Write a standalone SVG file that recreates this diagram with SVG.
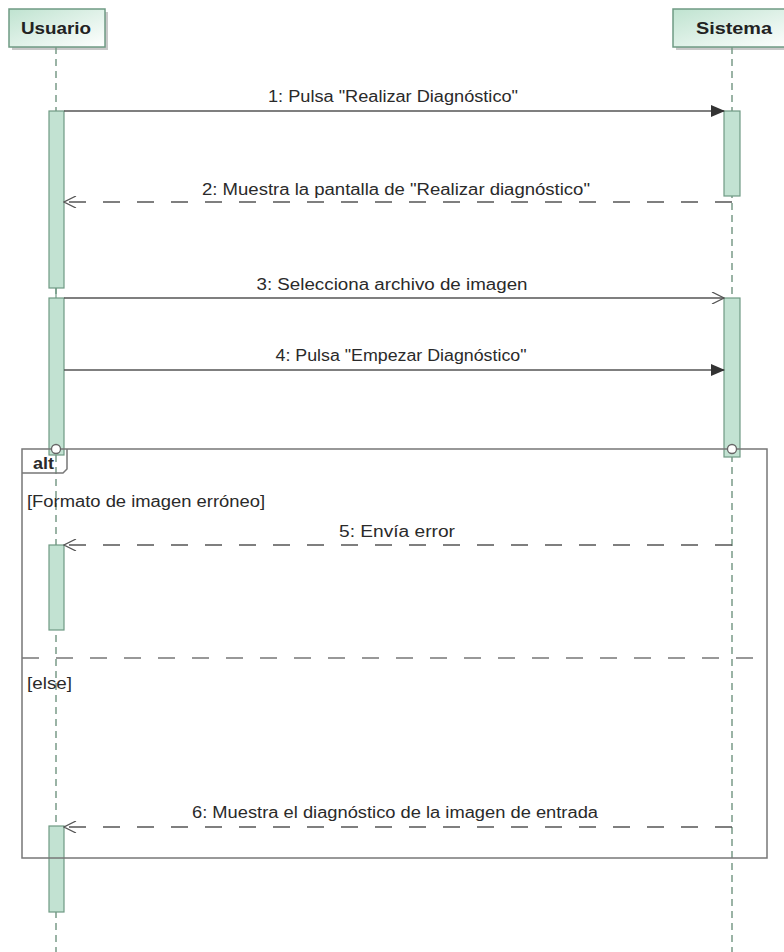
<svg xmlns="http://www.w3.org/2000/svg" width="784" height="952" viewBox="0 0 784 952">
<defs>
<linearGradient id="hg" x1="0" y1="0" x2="1" y2="1">
<stop offset="0" stop-color="#bfe3d0"/>
<stop offset="1" stop-color="#ffffff"/>
</linearGradient>
<marker id="filled" markerWidth="14" markerHeight="12" refX="13" refY="6" orient="auto" markerUnits="userSpaceOnUse">
<path d="M0,0 L14,6 L0,12 Z" fill="#333"/>
</marker>
<marker id="openEnd" markerWidth="14" markerHeight="12" refX="13" refY="6" orient="auto" markerUnits="userSpaceOnUse">
<path d="M1,0 L13,6 L1,12" fill="none" stroke="#555" stroke-width="1.3"/>
</marker>
</defs>
<style>
.hdr{fill:url(#hg);stroke:#6f9a84;stroke-width:1.5}
.shadow{fill:#c8c8c8}
.htxt{font-family:"Liberation Sans",Arial,sans-serif;font-size:16px;font-weight:bold;fill:#222;text-anchor:middle}
.life{stroke:#7a9a88;stroke-width:1.5;stroke-dasharray:7 5;fill:none}
.act{fill:#c2e2d2;stroke:#6f9a84;stroke-width:1.2}
.msg{stroke:#555;stroke-width:1.3;fill:none}
.dash{stroke-dasharray:17 17}
.lbl{font-family:"Liberation Sans",Arial,sans-serif;font-size:16px;fill:#2a2a2a;text-anchor:middle}
.guard{font-family:"Liberation Sans",Arial,sans-serif;font-size:16px;fill:#2a2a2a}
.frame{fill:none;stroke:#777;stroke-width:1.5}
</style>

<g id="usuario">
<rect class="shadow" x="12" y="12" width="96" height="38"/>
<rect class="hdr" x="9" y="9" width="96" height="38"/>
<text class="htxt" x="56" y="34" textLength="70" lengthAdjust="spacingAndGlyphs">Usuario</text>
<line class="life" x1="56" y1="47" x2="56" y2="952"/>
</g>

<g id="sistema">
<rect class="shadow" x="676" y="12" width="120" height="38"/>
<rect class="hdr" x="673" y="9" width="120" height="38"/>
<text class="htxt" x="734" y="34" textLength="76" lengthAdjust="spacingAndGlyphs">Sistema</text>
<line class="life" x1="732" y1="47" x2="732" y2="952"/>
</g>

<g id="activations">
<rect class="act" x="49" y="111" width="15" height="177"/>
<line x1="56" y1="288" x2="56" y2="298" stroke="#6f9a84" stroke-width="1.2"/>
<rect class="act" x="49" y="298" width="15" height="157"/>
<rect class="act" x="724" y="111" width="16" height="85"/>
<rect class="act" x="724" y="298" width="16" height="159"/>
<rect class="act" x="49" y="545" width="15" height="85"/>
<rect class="act" x="49" y="826" width="15" height="86"/>
</g>

<g id="alt-frame">
<rect class="frame" x="22" y="449" width="745" height="409"/>
<path class="frame" d="M22,473 L63,473 L67,469 L67,449"/>
<text class="guard" x="33" y="469" font-weight="bold" textLength="21" lengthAdjust="spacingAndGlyphs">alt</text>
<text class="guard" x="27" y="507" textLength="238" lengthAdjust="spacingAndGlyphs">[Formato de imagen erróneo]</text>
<line class="frame" x1="22" y1="658" x2="767" y2="658" stroke-dasharray="17 17"/>
<text class="guard" x="27" y="689" textLength="45" lengthAdjust="spacingAndGlyphs">[else]</text>
<circle cx="56" cy="449" r="4.5" fill="#fff" stroke="#666" stroke-width="1.3"/>
<circle cx="732" cy="449" r="4.5" fill="#fff" stroke="#666" stroke-width="1.3"/>
</g>

<g id="connectors">
<line class="msg" x1="64" y1="111" x2="724" y2="111" marker-end="url(#filled)"/>
<text class="lbl" x="393" y="102" textLength="250" lengthAdjust="spacingAndGlyphs">1: Pulsa "Realizar Diagnóstico"</text>

<path class="msg dash" d="M732,202 L64,202" marker-end="url(#openEnd)"/>
<text class="lbl" x="396" y="195" textLength="388" lengthAdjust="spacingAndGlyphs">2: Muestra la pantalla de "Realizar diagnóstico"</text>

<line class="msg" x1="64" y1="298" x2="724" y2="298" marker-end="url(#openEnd)"/>
<text class="lbl" x="392" y="290" textLength="271" lengthAdjust="spacingAndGlyphs">3: Selecciona archivo de imagen</text>

<line class="msg" x1="64" y1="370" x2="724" y2="370" marker-end="url(#filled)"/>
<text class="lbl" x="401" y="361" textLength="251" lengthAdjust="spacingAndGlyphs">4: Pulsa "Empezar Diagnóstico"</text>

<path class="msg dash" d="M732,545 L64,545" marker-end="url(#openEnd)"/>
<text class="lbl" x="397" y="537" textLength="116" lengthAdjust="spacingAndGlyphs">5: Envía error</text>

<path class="msg dash" d="M732,827 L64,827" marker-end="url(#openEnd)"/>
<text class="lbl" x="395" y="818" textLength="406" lengthAdjust="spacingAndGlyphs">6: Muestra el diagnóstico de la imagen de entrada</text>
</g>
</svg>
